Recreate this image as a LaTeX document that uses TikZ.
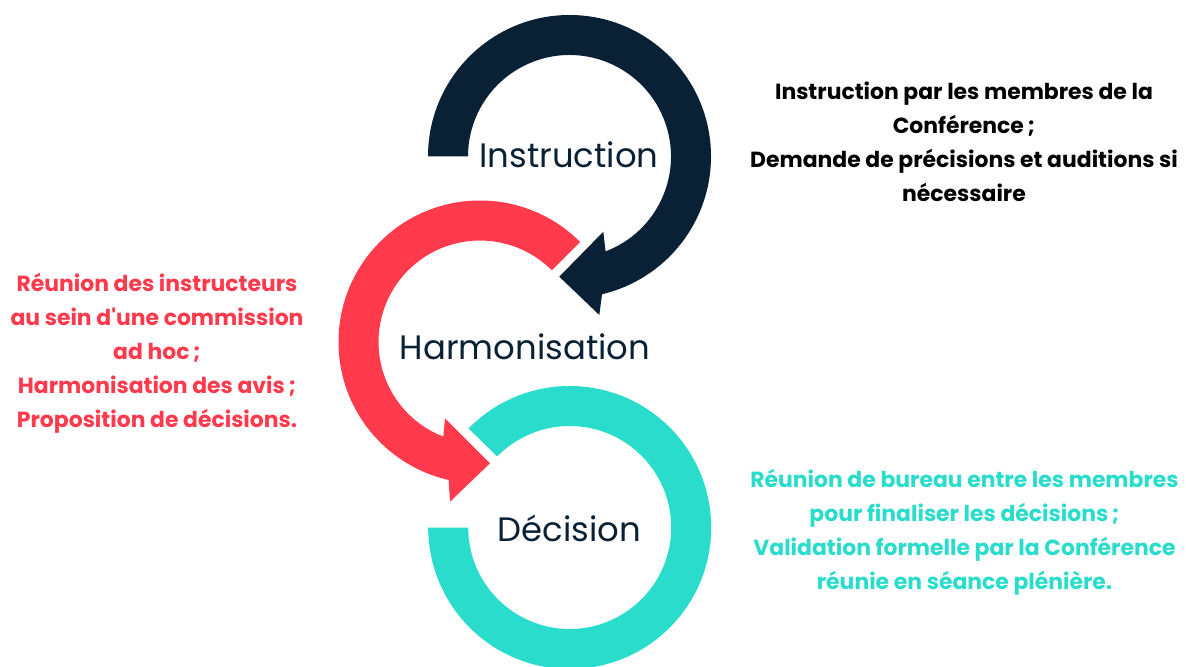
\documentclass[tikz,border=0pt]{standalone}
\usepackage{fontspec}
\setmainfont{Poppins}
\usetikzlibrary{calc}
\definecolor{navy}{HTML}{0A2034}
\definecolor{coral}{HTML}{FF3A4C}
\definecolor{teal2}{HTML}{29DCCB}
\begin{document}
\begin{tikzpicture}[x=0.3mm,y=0.3mm,
  lbl/.style={font=\fontsize{28.9}{34}\selectfont, text=navy, inner sep=0pt},
  body/.style={font=\bfseries\fontsize{18.7}{29}\selectfont, align=center, inner sep=0pt}]
\useasboundingbox (0,0) rectangle (1186,666);
\clip (0,0) rectangle (1186,666);
\fill[white] (0,0) rectangle (1186,666);
\coordinate (c1) at (569.5,509.5);
\coordinate (c2) at (480,324);
\coordinate (c3) at (569.7,138.5);
% navy arrow
\fill[navy] ($(c1)+(180:141.5)$) arc[start angle=180,end angle=-76.7,radius=141.5]
  -- (599.3,351) -- (559.3,389.3) -- (603.3,434.3) -- ($(c1)+(-69.2:101.5)$)
  arc[start angle=-69.2,end angle=180,radius=101.5] -- cycle;
% coral arrow
\fill[coral] ($(c2)+(45:141.5)$) arc[start angle=45,end angle=257.2,radius=141.5]
  -- (450,164.3) -- (490,202.7) -- (445,247.7) -- ($(c2)+(248.8:101.5)$)
  arc[start angle=248.8,end angle=45,radius=101.5] -- cycle;
% teal ring
\fill[teal2] ($(c3)+(135.6:141.5)$) arc[start angle=135.6,end angle=-180,radius=141.5]
  -- ($(c3)+(180:101.5)$) arc[start angle=-180,end angle=135.6,radius=101.5] -- cycle;
% labels
\node[lbl, anchor=base] (ins) at (569,498) {Instruction};
\node[lbl, anchor=base] (har) at (525,306) {Harmonisation};
\node[lbl, anchor=base] (dec) at (569.5,124.3) {Décision};
% descriptions
\node[body, text=black] (t1) at (964,524) {Instruction par les membres de la\\Conférence\,;\\Demande de précisions et auditions si\\nécessaire};
\node[body, text=coral] (t2) at (157,313) {Réunion des instructeurs\\au sein d\textquotesingle une commission\\ad hoc\,;\\Harmonisation des avis\,;\\Proposition de décisions.};
\node[body, text=teal2] (t3) at (964.5,134) {Réunion de bureau entre les membres\\pour finaliser les décisions\,;\\Validation formelle par la Conférence\\réunie en séance plénière.};
\end{tikzpicture}
\end{document}
